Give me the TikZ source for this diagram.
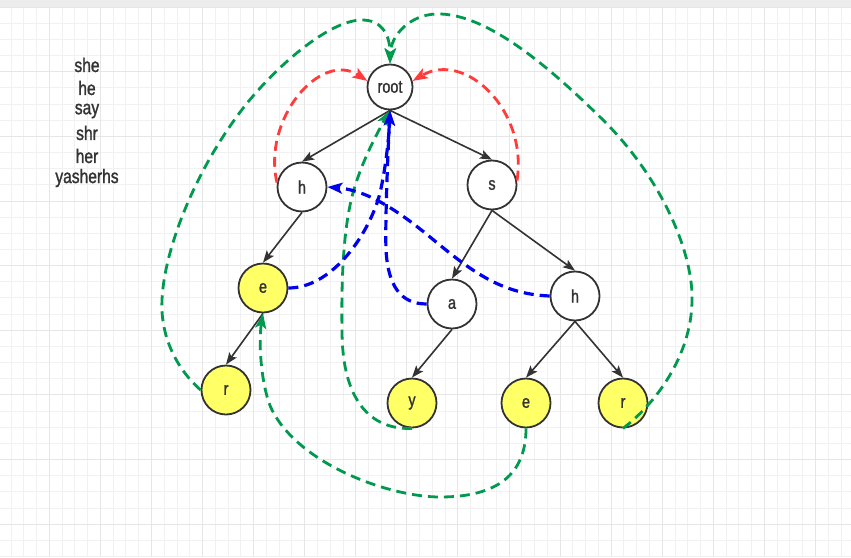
\documentclass[tikz,border=0pt]{standalone}
\usepackage{fontspec}
\usetikzlibrary{arrows.meta}
\newfontfamily\lblfont[FakeStretch=0.8,FakeBold=1.3]{Liberation Sans}
\definecolor{gridminor}{HTML}{F1F1F1}
\definecolor{gridmajor}{HTML}{E6E6E6}
\definecolor{band}{HTML}{ECECEC}
\definecolor{ink}{HTML}{333333}
\definecolor{nodeyellow}{HTML}{FFFF66}
\definecolor{fgreen}{HTML}{00994D}
\definecolor{fred}{HTML}{FF3B3B}
\definecolor{fblue}{HTML}{0000F0}
\tikzset{
  trie/.style={circle, draw=ink, line width=1.8pt, minimum size=49pt, inner sep=0pt,
    text=ink, font=\lblfont\fontsize{18}{18}\selectfont, fill=white},
  leaf/.style={trie, fill=nodeyellow},
  listtxt/.style={text=ink, font=\lblfont\fontsize{19.5}{20}\selectfont, inner sep=0pt},
  blk/.style={draw=ink, line width=1.6pt, -{Stealth[length=12pt,width=9pt,inset=2.5pt]}},
  gfail/.style={draw=fgreen, line width=2.8pt, dash pattern=on 10pt off 6pt,
    -{Stealth[length=15pt,width=11pt,inset=3.5pt]}},
  rfail/.style={draw=fred, line width=2.8pt, dash pattern=on 10pt off 6pt,
    -{Stealth[length=15pt,width=11pt,inset=3.5pt]}},
  bfail/.style={draw=fblue, line width=3.2pt, dash pattern=on 10pt off 6pt,
    -{Stealth[length=15pt,width=11pt,inset=3.5pt]}}
}
\begin{document}
\begin{tikzpicture}[x=1pt,y=-1pt]
\useasboundingbox (0,0) rectangle (851,557);
\fill[white] (0,0) rectangle (851,557);
\fill[band] (0,0) rectangle (851,7);
% grid
\foreach \k in {0,...,65} \draw[gridminor, line width=1pt] ({11+12.77*\k},7) -- ({11+12.77*\k},557);
\foreach \j in {1,...,34} \draw[gridminor, line width=1pt] (0,{7.1+16.16*\j}) -- (851,{7.1+16.16*\j});
\foreach \k in {3,7,...,63} \draw[gridmajor, line width=1pt] ({11+12.77*\k},7) -- ({11+12.77*\k},557);
\foreach \j in {0,4,...,32} \draw[gridmajor, line width=1pt] (0,{7.1+16.16*\j}) -- (851,{7.1+16.16*\j});

% word list
\node[listtxt] (w1) at (87,65) {she};
\node[listtxt] (w2) at (87,88) {he};
\node[listtxt] (w3) at (87,111) {say};
\node[listtxt] (w4) at (87,133) {shr};
\node[listtxt] (w5) at (87,156) {her};
\node[listtxt] (w6) at (87,178) {yasherhs};

% nodes
\node[trie, minimum size=45pt] (root) at (390,87) {root};
\node[trie] (h1) at (302,187) {h};
\node[trie] (s)  at (492,185) {s};
\node[leaf] (e1) at (263,288) {e};
\node[leaf] (r1) at (226,390) {r};
\node[trie] (a)  at (452,304) {a};
\node[trie] (h2) at (575,296) {h};
\node[leaf] (y)  at (412,403) {y};
\node[leaf] (e2) at (526,403) {e};
\node[leaf] (r2) at (623,403) {r};

% trie edges
\draw[blk] (root.south) -- (h1.north);
\draw[blk] (root.south) -- (s.north);
\draw[blk] (h1.south) -- (e1.north);
\draw[blk] (e1.south) -- (r1.north);
\draw[blk] (s.south) -- (a.north);
\draw[blk] (s.south) -- (h2.north);
\draw[blk] (a.south) -- (y.north);
\draw[blk] (h2.south) -- (e2.north);
\draw[blk] (h2.south) -- (r2.north);

% red fail links
\draw[rfail] (h1.170) .. controls (262,120) and (320,50) .. (root.165);
\draw[rfail] (s.10) .. controls (528,110) and (465,50) .. (root.15);

% green fail links to root (top)
\draw[gfail] (r1.west) .. controls (180,372) and (160,340) .. (162,300)
  .. controls (164,250) and (195,170) .. (244,107)
  .. controls (277,65) and (330,20) .. (362,20)
  .. controls (382,20) and (390,35) .. (root.north);
\draw[gfail] (r2.south) .. controls (660,400) and (693,350) .. (692,297)
  .. controls (692,250) and (660,175) .. (600,117)
  .. controls (560,78) and (490,12) .. (436,14)
  .. controls (410,15) and (391,35) .. (root.north);

% green y -> root (bottom)
\draw[gfail] (y.south) .. controls (370,430) and (342,400) .. (342,330)
  .. controls (341,265) and (345,215) .. (356,183)
  .. controls (365,155) and (380,128) .. (root.south);

% green e2 -> e1
\draw[gfail] (e2.south) .. controls (526,480) and (490,497) .. (440,497)
  .. controls (390,497) and (300,465) .. (272,410)
  .. controls (262,390) and (258,345) .. (e1.south);

% blue fail links
\draw[bfail] (e1.east) .. controls (330,288) and (365,240) .. (378,200)
  .. controls (384,181) and (389,140) .. (root.south);
\draw[bfail] (a.west) .. controls (400,304) and (388,285) .. (386,250)
  .. controls (385,220) and (388,150) .. (root.south);
\draw[bfail] (h2.west) .. controls (500,294) and (470,270) .. (430,237)
  .. controls (395,208) and (365,190) .. (h1.east);
\end{tikzpicture}
\end{document}
